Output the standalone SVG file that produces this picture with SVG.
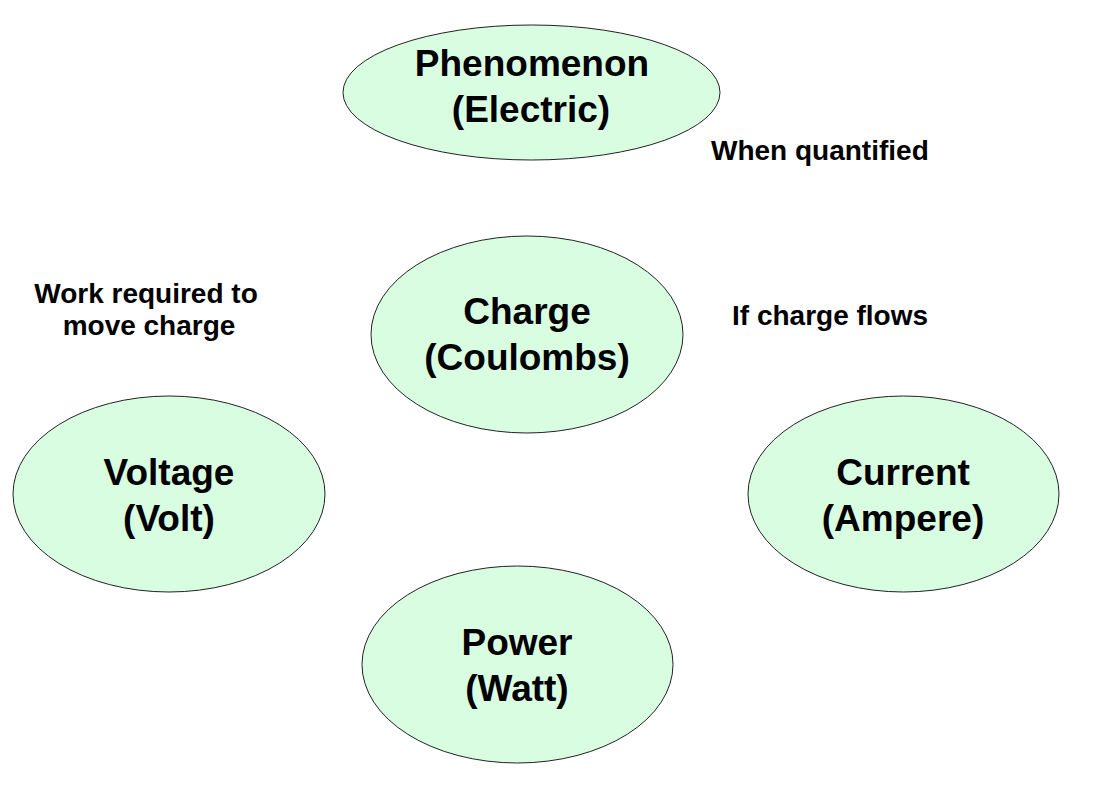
<svg xmlns="http://www.w3.org/2000/svg" width="1111" height="788" viewBox="0 0 1111 788">
<style>
.node{fill:#d9fde0;stroke:#222;stroke-width:1}
.nt{font-family:"Liberation Sans",Arial,sans-serif;font-weight:bold;font-size:37px;fill:#000;text-anchor:middle}
.lb{font-family:"Liberation Sans",Arial,sans-serif;font-weight:bold;font-size:28px;fill:#000}
</style>
<rect width="1111" height="788" fill="#fff"/>
<g id="connectors"/>
<g id="phenomenon">
<ellipse class="node" cx="531.5" cy="92.5" rx="188.5" ry="67.5"/>
<text class="nt" x="532" y="76">Phenomenon</text>
<text class="nt" x="531" y="122">(Electric)</text>
</g>
<g id="charge">
<ellipse class="node" cx="527" cy="334.5" rx="156" ry="98.5"/>
<text class="nt" x="527" y="324">Charge</text>
<text class="nt" x="527" y="370">(Coulombs)</text>
</g>
<g id="voltage">
<ellipse class="node" cx="169" cy="494" rx="156" ry="98"/>
<text class="nt" x="169" y="485">Voltage</text>
<text class="nt" x="169" y="531">(Volt)</text>
</g>
<g id="current">
<ellipse class="node" cx="903.5" cy="494" rx="155.5" ry="98"/>
<text class="nt" x="903" y="485">Current</text>
<text class="nt" x="903" y="531">(Ampere)</text>
</g>
<g id="power">
<ellipse class="node" cx="517.5" cy="664.5" rx="155.5" ry="98.5"/>
<text class="nt" x="517" y="655">Power</text>
<text class="nt" x="517" y="701">(Watt)</text>
</g>
<g id="labels">
<text class="lb" x="711" y="160">When quantified</text>
<text class="lb" x="732" y="325">If charge flows</text>
<text class="lb" x="146" y="303" text-anchor="middle">Work required to</text>
<text class="lb" x="149" y="335" text-anchor="middle">move charge</text>
</g>
</svg>
